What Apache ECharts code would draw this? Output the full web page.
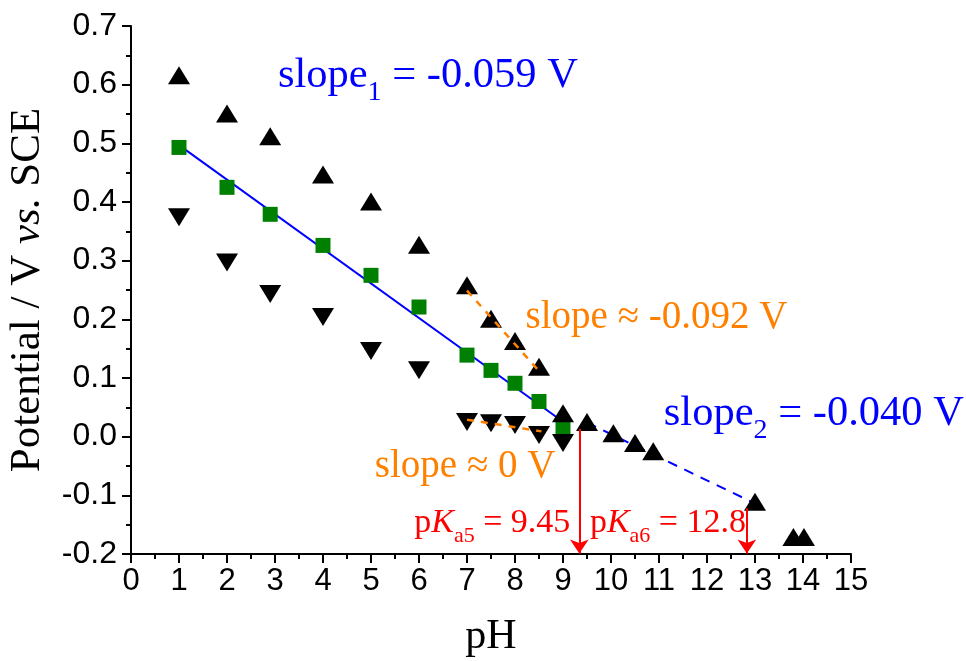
<!DOCTYPE html>
<html>
<head>
<meta charset="utf-8">
<script src="https://cdn.jsdelivr.net/npm/echarts@6/dist/echarts.min.js"></script>
<style>html,body{margin:0;padding:0;background:#fff;}#c{width:966px;height:661px;}</style>
</head>
<body>
<div id="c"></div>
<script>
// ---- data ----
const xTicks = [0,1,2,3,4,5,6,7,8,9,10,11,12,13,14,15];
const yTicks = [-0.2,-0.1,0.0,0.1,0.2,0.3,0.4,0.5,0.6,0.7];

const upX = [1, 2, 2.9, 4, 5, 6, 7, 7.5, 8, 8.5, 9, 9.5, 10.05, 10.5, 10.88, 13.0, 13.8, 14.02];
const upY = [0.616, 0.551, 0.512, 0.447, 0.401, 0.327, 0.258, 0.201, 0.163, 0.119, 0.040, 0.025, 0.006, -0.011, -0.025, -0.111, -0.171, -0.171];

const downX = [1, 2, 2.9, 4, 5, 6, 7, 7.5, 8, 8.5, 9];
const downY = [0.374, 0.297, 0.243, 0.204, 0.146, 0.113, 0.025, 0.023, 0.020, 0.003, -0.011];

const sqX = [1, 2, 2.9, 4, 5, 6, 7, 7.5, 8, 8.5, 9];
const sqY = [0.493, 0.425, 0.379, 0.326, 0.275, 0.221, 0.139, 0.113, 0.091, 0.060, 0.015];

const fitSlope1 = [[1, 0.497], [8.87, 0.033]];
const fitSlope2 = [[9.5, 0.024], [12.95, -0.112]];
const fitOrangeUp = [[7.0, 0.249], [8.5, 0.112]];
const fitOrangeLow = [[7.0, 0.029], [8.55, 0.009]];

const pKa5Arrow = [[9.34, 0.013], [9.34, -0.199]];
const pKa6Arrow = [[12.83, -0.122], [12.83, -0.199]];

const labelTexts = {
  slope1: '{m|slope}{s|1}{m| = -0.059 V}',
  slope092: 'slope \u2248 -0.092 V',
  slope2: '{m|slope}{s|2}{m| = -0.040 V}',
  slope0: 'slope \u2248 0 V',
  pKa5: '{m|p}{k|K}{s|a5}{m| = 9.45}',
  pKa6: '{m|p}{k|K}{s|a6}{m| = 12.8}'
};
const labelPos = {
  slope1: [3.06, 0.607],
  slope092: [8.22, 0.202],
  slope2: [11.1, 0.031],
  slope0: [5.08, -0.052],
  pKa5: [5.9, -0.154],
  pKa6: [9.56, -0.154]
};

// ---- chart ----
const SERIF = '"Liberation Serif", "Times New Roman", serif';
const SANS = '"Liberation Sans", Arial, sans-serif';
const zip = (xs, ys) => xs.map((x, i) => [x, ys[i]]);

function richSet(color, big, small) {
  return {
    m: {fontFamily: SERIF, fontSize: big, color: color, verticalAlign: 'bottom', padding: [0, 0, Math.round(big * 0.2), 0]},
    k: {fontFamily: SERIF, fontSize: big, color: color, fontStyle: 'italic', verticalAlign: 'bottom', padding: [0, 0, Math.round(big * 0.2), 0]},
    s: {fontFamily: SERIF, fontSize: small, color: color, verticalAlign: 'bottom'}
  };
}

function annot(key, color, big, small) {
  return {
    value: labelPos[key],
    label: {
      show: true, position: 'right', distance: 0,
      formatter: labelTexts[key],
      fontFamily: SERIF, fontSize: big, color: color,
      rich: richSet(color, big, small)
    }
  };
}

const chart = echarts.init(document.getElementById('c'), null, {renderer: 'canvas'});
chart.setOption({
  animation: false,
  backgroundColor: '#fff',
  grid: {left: 131, right: 115, top: 26, bottom: 107, containLabel: false, outerBoundsMode: 'none'},
  xAxis: {
    type: 'value', min: 0, max: 15, interval: 1,
    axisLine: {show: true, onZero: false, lineStyle: {color: '#000', width: 2}},
    axisTick: {show: true, inside: false, length: 9, lineStyle: {color: '#000', width: 2}},
    minorTick: {show: true, splitNumber: 2, length: 5, lineStyle: {color: '#000', width: 2}},
    splitLine: {show: false},
    axisLabel: {color: '#000', fontFamily: SANS, fontSize: 31, margin: 12,
      formatter: v => xTicks.includes(v) ? String(v) : ''},
    name: 'pH', nameLocation: 'middle', nameGap: 62,
    nameTextStyle: {fontFamily: SERIF, fontSize: 42, color: '#000'}
  },
  yAxis: {
    type: 'value', min: -0.2, max: 0.7, interval: 0.1,
    axisLine: {show: true, onZero: false, lineStyle: {color: '#000', width: 2}},
    axisTick: {show: true, inside: false, length: 9, lineStyle: {color: '#000', width: 2}},
    minorTick: {show: true, splitNumber: 2, length: 5, lineStyle: {color: '#000', width: 2}},
    splitLine: {show: false},
    axisLabel: {color: '#000', fontFamily: SANS, fontSize: 32, margin: 14,
      formatter: v => {
        const t = yTicks.find(k => Math.abs(k - v) < 1e-6);
        return t === undefined ? '' : t.toFixed(1);
      }},
    name: 'Potential / V {i|vs.} SCE', nameLocation: 'middle', nameRotate: 90, nameGap: 82,
    nameTextStyle: {fontFamily: SERIF, fontSize: 43, color: '#000',
      rich: {i: {fontFamily: SERIF, fontSize: 43, fontStyle: 'italic', color: '#000'}}}
  },
  series: [
    {type: 'line', data: fitSlope1, symbol: 'none', lineStyle: {color: '#0000FF', width: 2}, z: 2},
    {type: 'line', data: fitSlope2, symbol: 'none', lineStyle: {color: '#0000FF', width: 2, type: [10, 8]}, z: 2},
    {type: 'line', data: fitOrangeUp, symbol: 'none', lineStyle: {color: '#FF8000', width: 2.5, type: [7, 7]}, z: 4},
    {type: 'line', data: fitOrangeLow, symbol: 'none', lineStyle: {color: '#FF8000', width: 2.5, type: [7, 7]}, z: 4},
    {type: 'scatter', data: zip(sqX, sqY), symbol: 'rect', symbolSize: 15,
      itemStyle: {color: '#008000', opacity: 1}, z: 3},
    {type: 'scatter', data: zip(upX, upY), symbol: 'triangle', symbolSize: [22, 18],
      itemStyle: {color: '#000', opacity: 1}, z: 3},
    {type: 'scatter', data: zip(downX, downY), symbol: 'triangle', symbolSize: [22, 18], symbolRotate: 180,
      itemStyle: {color: '#000', opacity: 1}, z: 3},
    {type: 'lines', coordinateSystem: 'cartesian2d', polyline: false,
      symbol: ['none', 'arrow'], symbolSize: [1, 14],
      lineStyle: {color: '#FF0000', width: 2, opacity: 1},
      data: [{coords: pKa5Arrow}, {coords: pKa6Arrow}], z: 5},
    {type: 'scatter', symbolSize: 0, silent: true, z: 6,
      itemStyle: {opacity: 1},
      data: [
        annot('slope1', '#0000FF', 42.5, 28),
        annot('slope092', '#FF8000', 39, 25),
        annot('slope2', '#0000FF', 42.5, 28),
        annot('slope0', '#FF8000', 39, 25),
        annot('pKa5', '#FF0000', 34, 22),
        annot('pKa6', '#FF0000', 34, 22)
      ]}
  ]
});
</script>
</body>
</html>
